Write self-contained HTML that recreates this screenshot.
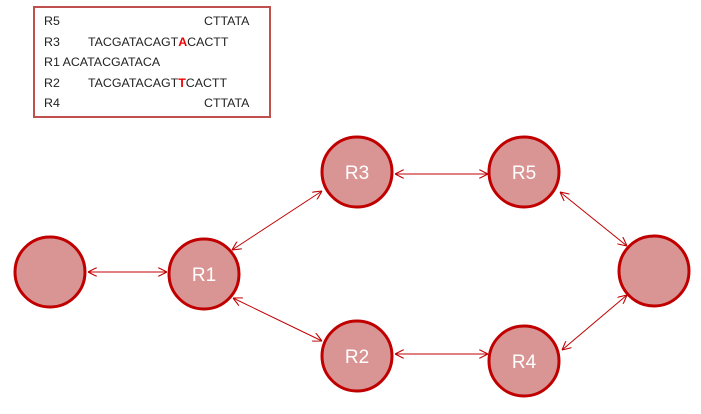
<!DOCTYPE html>
<html><head><style>
body{margin:0;background:#fff;width:701px;height:414px;overflow:hidden;font-family:"Liberation Sans",sans-serif}
.box{position:absolute;left:33px;top:6px;width:234px;height:108px;border:2.5px solid #c0504d;}
.l{position:absolute;font-size:12.4px;color:#222;white-space:pre}
</style></head><body>
<div class="box"></div>
<div class="l" style="left:44px;top:14px">R5</div><div class="l" style="left:204px;top:14px">CTTATA</div>
<div class="l" style="left:44px;top:35px">R3</div><div class="l" style="left:88px;top:35px">TACGATACAGT<span style="color:#e00;font-weight:bold">A</span>CACTT</div>
<div class="l" style="left:44px;top:55px">R1 ACATACGATACA</div>
<div class="l" style="left:44px;top:76px">R2</div><div class="l" style="left:88px;top:76px">TACGATACAGT<span style="color:#e00;font-weight:bold">T</span>CACTT</div>
<div class="l" style="left:44px;top:96px">R4</div><div class="l" style="left:204px;top:96px">CTTATA</div>
<svg width="701" height="414" style="position:absolute;left:0;top:0">
<defs><marker id="a" viewBox="0 0 10 10" refX="10" refY="5" markerWidth="9" markerHeight="9" orient="auto-start-reverse" markerUnits="userSpaceOnUse"><path d="M0,0 L10,5 L0,10" fill="none" stroke="#c00000" stroke-width="1.2"/></marker></defs>
<g stroke="#c00000" stroke-width="1" marker-start="url(#a)" marker-end="url(#a)">
<line x1="88" y1="272" x2="167" y2="272"/>
<line x1="232" y1="250" x2="322" y2="191"/>
<line x1="395" y1="174" x2="488" y2="174"/>
<line x1="560" y1="192" x2="627" y2="246"/>
<line x1="233" y1="298" x2="322" y2="341"/>
<line x1="395" y1="354" x2="488" y2="354"/>
<line x1="562" y1="350" x2="627" y2="295"/>
</g>
<g fill="#d99594" stroke="#c00000" stroke-width="3">
<circle cx="50" cy="272" r="35"/><circle cx="204" cy="274" r="35"/>
<circle cx="357" cy="172" r="35"/><circle cx="524" cy="172" r="35"/>
<circle cx="357" cy="356" r="35"/><circle cx="524" cy="361" r="35"/>
<circle cx="654" cy="271" r="35"/>
</g>
<g fill="#fff" font-size="19" text-anchor="middle" font-family="Liberation Sans,sans-serif">
<text x="204" y="281">R1</text><text x="357" y="179">R3</text><text x="524" y="179">R5</text>
<text x="357" y="363">R2</text><text x="524" y="368">R4</text>
</g>
</svg>
</body></html>
